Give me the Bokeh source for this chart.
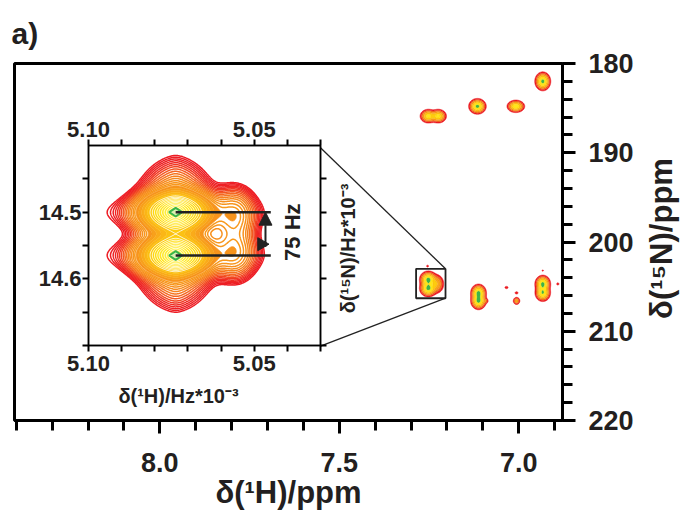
import math
import numpy as np
from bokeh.plotting import figure
from bokeh.models import (Range1d, LinearAxis, FixedTicker, PrintfTickFormatter,
                          Arrow, NormalHead, Label)
from bokeh.embed import file_html
from bokeh.resources import INLINE

FONT = "Liberation Sans"
INK = "#231f20"

# ---------------- main spectrum data ----------------
x_major = [8.0, 7.5, 7.0]
x_minor = [8.4, 8.3, 8.2, 8.1, 7.9, 7.8, 7.7, 7.6, 7.4, 7.3, 7.2, 7.1, 6.9]
y_major = [180, 190, 200, 210, 220]
y_minor = [182, 184, 186, 188, 192, 194, 196, 198, 202, 204, 206, 208,
           212, 214, 216, 218]

peak_h = [6.933, 7.008, 7.115, 7.252, 7.224,
          7.252, 7.252, 7.228, 7.254,
          7.112, 7.112, 7.092,
          7.034, 7.006, 7.006,
          6.933, 6.933, 6.891, 6.933]
peak_n = [182.0, 184.8, 184.8, 185.9, 185.9,
          204.2, 205.2, 204.7, 202.7,
          205.7, 206.6, 206.6,
          205.1, 205.7, 206.6,
          204.7, 205.7, 204.7, 203.2]
peak_amp = [1.0, 0.75, 1.0, 0.62, 0.62,
            1.0, 1.0, 0.30, 0.06,
            1.0, 1.0, 0.12,
            0.07, 0.07, 0.30,
            1.0, 0.9, 0.07, 0.05]
peak_wh = [0.0088, 0.0102, 0.0097, 0.0097, 0.0097,
           0.0097, 0.0097, 0.0095, 0.0030,
           0.0087, 0.0087, 0.0040,
           0.0040, 0.0040, 0.0045,
           0.0087, 0.0087, 0.0030, 0.0030]
peak_wn = [0.42, 0.29, 0.35, 0.33, 0.33,
           0.38, 0.38, 0.50, 0.12,
           0.39, 0.39, 0.15,
           0.12, 0.12, 0.20,
           0.39, 0.39, 0.12, 0.10]

main_levels = [0.04, 0.09, 0.18, 0.32, 0.52, 0.86, 10.0]
main_fills = ["#ed1c24", "#f47a20", "#f9a51b", "#fdcb0f", "#ffe51a", "#3cb44b"]

box_h = [7.286, 7.204]
box_n = [203.0, 206.3]

# ---------------- inset data (kHz) ----------------
ix_major = [5.10, 5.05]
ix_minor = [5.09, 5.08, 5.07, 5.06, 5.04, 5.03]
iy_major = [14.5, 14.6]
iy_minor = [14.45, 14.55, 14.65, 14.70]
iy_right = [14.45, 14.50, 14.55, 14.60, 14.65, 14.70]

lobe_x = [5.0737, 5.0737, 5.0560, 5.0560]
lobe_y = [14.500, 14.565, 14.505, 14.560]
lobe_amp = [1.0, 1.0, 0.085, 0.085]
lobe_sx = [0.0056, 0.0056, 0.0036, 0.0036]     # gaussian width along x
lobe_gx = [0.0035, 0.0035, 0.0030, 0.0030]     # lorentzian width along x
lobe_lw = [0.25, 0.25, 0.0, 0.0]               # lorentzian share along x
lobe_sy = [0.0150, 0.0150, 0.022, 0.022]       # core width along y
lobe_sy2 = [0.036, 0.036, 0.022, 0.022]        # skirt width along y
lobe_sw = [0.13, 0.13, 0.0, 0.0]               # skirt share along y

line_levels = [0.008, 0.0095, 0.0112, 0.0132, 0.0156, 0.0184, 0.0217, 0.026,
               0.031, 0.037, 0.044, 0.052, 0.062, 0.074, 0.087]
line_colors = ["#ed1c24", "#ed1e24", "#ed2124", "#ee2624", "#ef2d24",
               "#f03823", "#f24722", "#f35822", "#f46721", "#f57620",
               "#f6821f", "#f68a1e", "#f7901d", "#f7951d", "#f8991c"]
fill_levels = [0.10, 0.13, 0.17, 0.22, 0.28, 0.34, 0.40, 0.46, 0.53, 0.60,
               0.68, 0.76, 0.84, 0.91, 0.97, 1.5]
fill_colors = ["#f7941d", "#f8a01c", "#faab1a", "#fbb617", "#fcc113",
               "#fdcd10", "#fed60e", "#ffdd12", "#ffe21a", "#ffe623",
               "#ffea2c", "#ffed36", "#fff040", "#fff24a", "#fff45a"]
fill_lines = ["#f7941d", "#f8a01c", "#faab1a", "#fbb617", "#fcc113"] + ["white"] * 11

coupling_y = [14.500, 14.565]
coupling_x0 = 5.0737
coupling_x1 = 5.045
arrow_x = 5.0466

# ---------------- layout constants (page pixels) ----------------
PW, PH = 685, 517
MW, MH = 684, 515
M_LEFT, M_RIGHT, M_TOP, M_BOTTOM = 14, 122, 60, 95
IW, IH = 340, 305
I_LEFT, I_RIGHT, I_TOP, I_BOTTOM = 64, 44, 37, 68
INSET_X, INSET_Y = 24, 108

XR = (8.405, 6.878)
YR = (220.0, 180.0)
IXR = (5.10, 5.03)
IYR = (14.70, 14.40)

# ---------------- main figure ----------------
p = figure(width=MW, height=MH, x_range=Range1d(*XR), y_range=Range1d(*YR),
           x_axis_location="below", y_axis_location="right",
           output_backend="svg", toolbar_location=None,
           min_border_left=M_LEFT, min_border_right=M_RIGHT,
           min_border_top=M_TOP, min_border_bottom=M_BOTTOM)
p.xgrid.visible = False
p.ygrid.visible = False
p.outline_line_color = "black"
p.outline_line_width = 3
p.background_fill_color = "white"
p.border_fill_color = "white"

p.title.text = "a)"
p.title.text_font = FONT
p.title.text_font_size = "30px"
p.title.text_font_style = "bold"
p.title.text_color = INK
p.title.align = "left"
p.title.offset = -3
p.title.standoff = 28

xa = p.xaxis[0]
xa.ticker = FixedTicker(ticks=x_major, minor_ticks=x_minor)
xa.formatter = PrintfTickFormatter(format="%.1f")
ya = p.yaxis[0]
ya.ticker = FixedTicker(ticks=y_major, minor_ticks=y_minor)
ya.formatter = PrintfTickFormatter(format="%d")
for ax in (xa, ya):
    ax.axis_line_width = 3
    ax.axis_line_color = "black"
    ax.major_tick_line_width = 3
    ax.minor_tick_line_width = 3
    ax.major_tick_in = 0
    ax.minor_tick_in = 0
    ax.major_tick_out = 13
    ax.minor_tick_out = 10
    ax.major_label_text_font = FONT
    ax.major_label_text_font_style = "bold"
    ax.major_label_text_font_size = "27px"
    ax.major_label_text_color = INK
    ax.axis_label_text_font = FONT
    ax.axis_label_text_font_style = "bold"
    ax.axis_label_text_font_size = "31px"
    ax.axis_label_text_color = INK
xa.major_label_standoff = 19
xa.axis_label = "δ(¹H)/ppm"
xa.axis_label_standoff = 0
ya.major_label_standoff = 13

sx = (XR[1] - XR[0]) / (MW - M_LEFT - M_RIGHT)
sy = (YR[1] - YR[0]) / (MH - M_TOP - M_BOTTOM)

# peaks as contours
hh = np.linspace(6.86, 7.34, 341)
nn = np.linspace(180.0, 209.0, 781)
HH, NN = np.meshgrid(hh, nn)
Z = np.zeros_like(HH)
for h, n, a, wh, wn in zip(peak_h, peak_n, peak_amp, peak_wh, peak_wn):
    Z += a * np.exp(-0.5 * ((HH - h) / wh) ** 2 - 0.5 * ((NN - n) / wn) ** 2)
p.contour(hh, nn, Z, levels=main_levels, fill_color=main_fills,
          line_color=[main_fills[0]] + main_fills, line_width=0.6)

# zoom box and connectors
p.quad(left=[box_h[0]], right=[box_h[1]], top=[box_n[0]], bottom=[box_n[1]],
       fill_color=None, line_color="#222222", line_width=1.8)

inset_right_px = INSET_X + IW - I_RIGHT - M_LEFT
inset_top_px = INSET_Y + I_TOP - M_TOP
inset_bot_px = INSET_Y + IH - I_BOTTOM - M_TOP
corner_h = XR[0] + inset_right_px * sx
corner_n_top = YR[1] - inset_top_px * sy
corner_n_bot = YR[1] - inset_bot_px * sy
p.segment(x0=[corner_h, corner_h], y0=[corner_n_top, corner_n_bot],
          x1=[box_h[1], box_h[1]], y1=[box_n[0], box_n[1]],
          line_color="#222222", line_width=1.3)

# ---------------- inset figure ----------------
q = figure(width=IW, height=IH, x_range=Range1d(*IXR), y_range=Range1d(*IYR),
           x_axis_location=None, y_axis_location=None,
           output_backend="svg", toolbar_location=None,
           min_border_left=I_LEFT, min_border_right=I_RIGHT,
           min_border_top=I_TOP, min_border_bottom=I_BOTTOM)
q.xgrid.visible = False
q.ygrid.visible = False
q.outline_line_color = "black"
q.outline_line_width = 1.5
q.background_fill_color = "white"
q.border_fill_alpha = 0

axes = {
    "below": LinearAxis(ticker=FixedTicker(ticks=ix_major, minor_ticks=ix_minor),
                        formatter=PrintfTickFormatter(format="%.2f")),
    "above": LinearAxis(ticker=FixedTicker(ticks=ix_major, minor_ticks=ix_minor),
                        formatter=PrintfTickFormatter(format="%.2f")),
    "left": LinearAxis(ticker=FixedTicker(ticks=iy_major, minor_ticks=iy_minor),
                       formatter=PrintfTickFormatter(format="%.1f")),
    "right": LinearAxis(ticker=FixedTicker(ticks=[], minor_ticks=iy_right)),
}
for side, ax in axes.items():
    ax.axis_line_width = 1.5
    ax.major_tick_line_width = 2
    ax.minor_tick_line_width = 2
    ax.major_tick_in = 0
    ax.minor_tick_in = 0
    ax.major_tick_out = 6
    ax.minor_tick_out = 6
    ax.major_label_text_font = FONT
    ax.major_label_text_font_style = "bold"
    ax.major_label_text_font_size = "22px"
    ax.major_label_text_color = INK
    q.add_layout(ax, side)
axes["below"].major_label_standoff = 4
axes["above"].major_label_standoff = 3
axes["left"].major_label_standoff = 1
axes["right"].major_label_standoff = 0

xx = np.linspace(5.03, 5.10, 281)
yy = np.linspace(14.40, 14.70, 301)
XX, YY = np.meshgrid(xx, yy)
F = np.zeros_like(XX)
for x0, y0, a, gsx, lgx, lw, gsy, gsy2, sw in zip(lobe_x, lobe_y, lobe_amp,
                                                  lobe_sx, lobe_gx, lobe_lw,
                                                  lobe_sy, lobe_sy2, lobe_sw):
    u = XX - x0
    v = YY - y0
    px = (1 - lw) * np.exp(-0.5 * (u / gsx) ** 2) + lw / (1 + (u / lgx) ** 2)
    py = (1 - sw) * np.exp(-0.5 * (v / gsy) ** 2) + sw * np.exp(-0.5 * (v / gsy2) ** 2)
    F += a * px * py

q.contour(xx, yy, F, levels=line_levels, fill_color=None,
          line_color=line_colors, line_width=1.5)
q.contour(xx, yy, F, levels=fill_levels, fill_color=fill_colors,
          line_color=fill_lines, line_width=0.8)
q.scatter(x=[lobe_x[0], lobe_x[1]], y=[lobe_y[0], lobe_y[1]], marker="diamond",
          angle=math.pi / 2, size=13, line_color="#39b54a", line_width=2,
          fill_color="#d9f0b0")

q.segment(x0=[coupling_x0, coupling_x0], y0=coupling_y,
          x1=[coupling_x1, coupling_x1], y1=coupling_y,
          line_color="#222222", line_width=2.5)
q.add_layout(Arrow(end=NormalHead(size=13, fill_color="#222222",
                                  line_color="#222222"),
                   x_start=arrow_x, y_start=14.552, x_end=arrow_x, y_end=14.500,
                   line_width=2, line_color="#222222"))
q.scatter(x=[arrow_x + 0.0012], y=[14.548], marker="triangle", angle=-math.pi / 2,
          size=13, fill_color="#222222", line_color="#222222")
q.add_layout(Label(x=5.0384, y=14.530, text="75 Hz", angle=math.pi / 2,
                   text_align="center", text_baseline="middle",
                   text_font=FONT, text_font_style="bold",
                   text_font_size="22px", text_color=INK))

q.styles = {"position": "absolute", "left": f"{INSET_X}px", "top": f"{INSET_Y}px"}

# ---------------- transparent overlay for free-standing axis titles ----------------
o = figure(width=PW, height=PH, x_range=Range1d(0, PW), y_range=Range1d(PH, 0),
           x_axis_location=None, y_axis_location=None,
           output_backend="svg", toolbar_location=None,
           min_border=0, min_border_left=0, min_border_right=0,
           min_border_top=0, min_border_bottom=0)
o.xgrid.visible = False
o.ygrid.visible = False
o.outline_line_color = None
o.background_fill_alpha = 0
o.border_fill_alpha = 0

titles = [
    ("δ(¹⁵N)/ppm", 661, 238, math.pi / 2, "31px"),
    ("δ(¹⁵N)/Hz*10⁻³", 347, 248, math.pi / 2, "20px"),
    ("δ(¹H)/Hz*10⁻³", 178, 395, 0.0, "20px"),
]
for text, tx, ty, ang, fs in titles:
    o.add_layout(Label(x=tx, y=ty, text=text, angle=ang,
                       text_align="center", text_baseline="middle",
                       text_font=FONT, text_font_style="bold",
                       text_font_size=fs, text_color=INK))

o.styles = {"position": "absolute", "left": "0px", "top": "0px",
            "pointer-events": "none"}

open("out.html", "w").write(file_html([p, q, o], INLINE))
